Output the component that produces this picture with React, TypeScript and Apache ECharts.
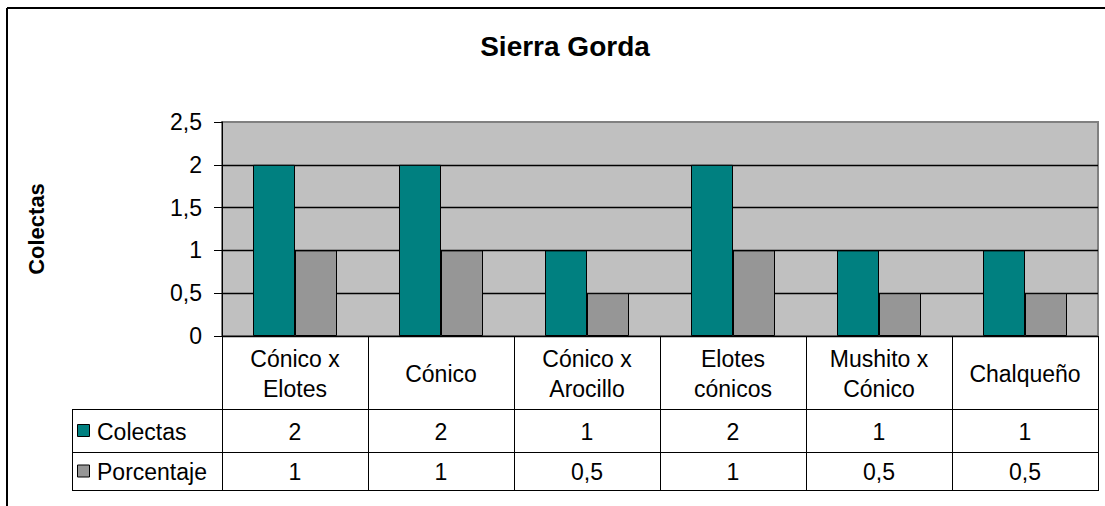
import React, { useEffect, useRef } from "react";
import * as echarts from "echarts";

const categories = [
  "Cónico x\nElotes",
  "Cónico",
  "Cónico x\nArocillo",
  "Elotes\ncónicos",
  "Mushito x\nCónico",
  "Chalqueño",
];
const colectas = [2, 2, 1, 2, 1, 1];
const porcentaje = [1, 1, 0.5, 1, 0.5, 0.5];
const seriesNames = ["Colectas", "Porcentaje"];
const yTicks = { min: 0, max: 2.5, interval: 0.5 };

const W = 1105;
const H = 506;
const PL = 222;
const PR = 1098;
const PT = 122;
const PB = 336;
const ROW1 = 409;
const ROW2 = 452;
const ROW3 = 490;
const TBL_LEFT = 72;
const FONT = "Liberation Sans, Arial, sans-serif";
const TEAL = "#008080";
const GRAY = "#969696";

const fmt = (v: number) => String(v).replace(".", ",");

export default function App() {
  const ref = useRef<HTMLDivElement>(null);
  useEffect(() => {
    if (!ref.current) return;
    const chart = echarts.init(ref.current, null, { renderer: "svg" });
    const n = categories.length;
    const catW = (PR - PL) / n;
    const graphics: any[] = [];
    const line = (x1: number, y1: number, x2: number, y2: number, w = 1, c = "#000") =>
      graphics.push({
        type: "line",
        shape: { x1, y1, x2, y2 },
        style: { stroke: c, lineWidth: w },
        z: 100,
      });
    // outer frame
    line(7, 8, W, 8, 2);
    line(7, 8, 7, H, 2);
    // table horizontal lines
    line(TBL_LEFT, ROW1 + 0.5, PR, ROW1 + 0.5);
    line(TBL_LEFT, ROW2 + 0.5, PR, ROW2 + 0.5);
    line(TBL_LEFT, ROW3 + 0.5, PR, ROW3 + 0.5);
    line(TBL_LEFT + 0.5, ROW1, TBL_LEFT + 0.5, ROW3 + 1);
    const txt = (text: string, x: number, y: number, align = "center") =>
      graphics.push({
        type: "text",
        x,
        y,
        z: 100,
        style: {
          text,
          align,
          verticalAlign: "middle",
          fontFamily: FONT,
          fontSize: 23,
          lineHeight: 30,
          fill: "#000",
        },
      });
    categories.forEach((c, i) => {
      const cx = PL + catW * (i + 0.5);
      txt(c, cx, (PB + ROW1) / 2 + 1);
      txt(fmt(colectas[i]), cx, (ROW1 + ROW2) / 2 + 1);
      txt(fmt(porcentaje[i]), cx, (ROW2 + ROW3) / 2 + 1);
    });
    [TEAL, GRAY].forEach((col, k) => {
      const cy = k === 0 ? (ROW1 + ROW2) / 2 : (ROW2 + ROW3) / 2;
      graphics.push({
        type: "rect",
        z: 100,
        shape: { x: 77.5, y: cy - 6, width: 12, height: 12 },
        style: { fill: col, stroke: "#000", lineWidth: 1 },
      });
      txt(seriesNames[k], 97, cy + 1, "left");
    });

    chart.setOption({
      animation: false,
      backgroundColor: "#fff",
      title: {
        text: "Sierra Gorda",
        left: 560,
        textAlign: "center",
        top: 27,
        textStyle: { fontFamily: FONT, fontSize: 28, fontWeight: "bold", color: "#000" },
      },
      grid: {
        left: PL,
        right: W - PR,
        top: PT,
        bottom: H - PB,
        show: true,
        backgroundColor: "#C0C0C0",
        borderColor: "#808080",
        borderWidth: 2,
      },
      xAxis: {
        type: "category",
        data: categories,
        axisLine: { show: true, lineStyle: { color: "#000", width: 1 } },
        axisTick: {
          show: true,
          interval: 0,
          length: ROW3 - PB + 1,
          lineStyle: { color: "#000", width: 1 },
        },
        axisLabel: { show: false },
        splitLine: { show: false },
      },
      yAxis: {
        type: "value",
        min: yTicks.min,
        max: yTicks.max,
        interval: yTicks.interval,
        name: "Colectas",
        nameLocation: "middle",
        nameGap: 175,
        nameRotate: 90,
        nameTextStyle: { fontFamily: FONT, fontSize: 22, fontWeight: "bold", color: "#000" },
        axisLine: { show: true, lineStyle: { color: "#000", width: 1 } },
        axisTick: { show: true, length: 8, lineStyle: { color: "#000" } },
        axisLabel: {
          margin: 20,
          fontFamily: FONT,
          fontSize: 23,
          color: "#000",
          formatter: (v: number) => fmt(v),
        },
        splitLine: { show: true, showMaxLine: false, lineStyle: { color: "#000", width: 1.3 } },
      },
      series: [
        {
          name: seriesNames[0],
          type: "bar",
          data: colectas,
          barWidth: 42,
          barGap: "0%",
          itemStyle: { color: TEAL, borderColor: "#000", borderWidth: 1 },
        },
        {
          name: seriesNames[1],
          type: "bar",
          data: porcentaje,
          barWidth: 42,
          barGap: "0%",
          itemStyle: { color: GRAY, borderColor: "#000", borderWidth: 1 },
        },
      ],
      graphic: graphics,
    });
    return () => chart.dispose();
  }, []);
  return (
    <div
      ref={ref}
      style={{ position: "absolute", left: 0, top: 0, width: W, height: H }}
    />
  );
}
